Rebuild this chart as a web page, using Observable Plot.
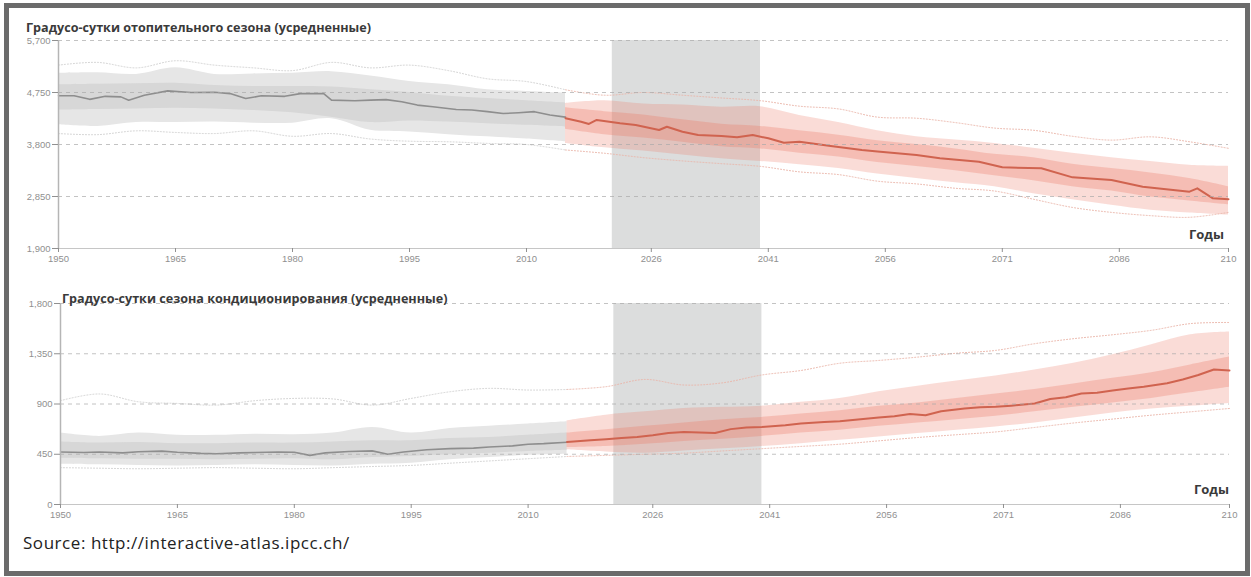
<!DOCTYPE html>
<html>
<head>
<meta charset="utf-8">
<script src="https://cdn.jsdelivr.net/npm/d3@7"></script>
<script src="https://cdn.jsdelivr.net/npm/@observablehq/plot@0.6"></script>
<style>
  html, body { margin: 0; padding: 0; background: #fff; }
  body { width: 1251px; height: 577px; overflow: hidden; position: relative; }
  #frame { position: absolute; left: 4px; top: 3px; width: 1246px; height: 573px; box-sizing: border-box;
           border: 5px solid #6b6b6b; z-index: 5; pointer-events: none; }
  .panel { position: absolute; left: 0; }
  .title { position: absolute; font-family: "Open Sans", sans-serif; font-weight: 700; font-size: 12.6px;
           line-height: 12.6px; color: #3a3a3a; white-space: nowrap; z-index: 3; }
  .years { position: absolute; font-family: "Open Sans", sans-serif; font-weight: 700; font-size: 13px;
           line-height: 13px; color: #3a3a3a; white-space: nowrap; z-index: 3; }
  #source { position: absolute; left: 23px; top: 534px; font-family: "Open Sans", sans-serif; font-size: 17px;
            letter-spacing: 0.55px; line-height: 17px; color: #222; white-space: nowrap; }
</style>
</head>
<body>
<div id="frame"></div>
<div id="p1" class="panel" style="top:0px"></div>
<div id="p2" class="panel" style="top:270px"></div>
<div class="title" id="t1" style="left:26px; top:22px"></div>
<div class="title" id="t2" style="left:62px; top:293px"></div>
<div class="years" id="g1" style="left:1189px; top:227.5px"></div>
<div class="years" id="g2" style="left:1194px; top:483px"></div>
<div id="source"></div>
<script>
// ---------- texts ----------
const title1 = "Градусо-сутки отопительного сезона (усредненные)";
const title2 = "Градусо-сутки сезона кондиционирования (усредненные)";
const xLabel = "Годы";
const sourceText = "Source: http://interactive-atlas.ipcc.ch/";

// ---------- shared x ----------
const tickYears  = [1950, 1965, 1980, 1995, 2010, 2026, 2041, 2056, 2071, 2086, 2100];
const tickLabels = ["1950", "1965", "1980", "1995", "2010", "2026", "2041", "2056", "2071", "2086", "210"];
const periodStart = 2021;
const periodEnd = 2040;

const histBandYears = [1950, 1955, 1960, 1965, 1970, 1975, 1980, 1985, 1990, 1995, 2000, 2005, 2010, 2015];
const futBandYears  = [2015, 2020, 2025, 2030, 2035, 2040, 2045, 2050, 2055, 2060, 2065, 2070, 2075, 2080, 2085, 2090, 2095, 2100];
const modelYears    = [1950, 1955, 1960, 1965, 1970, 1975, 1980, 1985, 1990, 1995, 2000, 2005, 2010, 2015, 2020, 2025,
                       2030, 2035, 2040, 2045, 2050, 2055, 2060, 2065, 2070, 2075, 2080, 2085, 2090, 2095, 2100];

// ---------- heating degree days ----------
const hddYTicks = [1900, 2850, 3800, 4750, 5700];
const hddHistOuterHi = [5100, 5110, 5080, 5200, 5080, 5090, 5100, 5130, 5050, 4950, 4890, 4800, 4770, 4740];
const hddHistOuterLo = [4160, 4130, 4200, 4200, 4210, 4190, 4190, 4270, 4060, 4030, 3980, 3940, 3900, 3850];
const hddHistInnerHi = [4890, 4900, 4910, 4920, 4880, 4860, 4860, 4850, 4800, 4750, 4680, 4640, 4600, 4560];
const hddHistInnerLo = [4430, 4440, 4450, 4460, 4450, 4420, 4380, 4300, 4200, 4230, 4210, 4180, 4150, 4120];
const hddFutOuterHi = [4550, 4600, 4540, 4520, 4480, 4490, 4330, 4200, 4050, 3940, 3880, 3820, 3730, 3640, 3560, 3490, 3420, 3400];
const hddFutOuterLo = [3820, 3740, 3680, 3610, 3540, 3490, 3430, 3360, 3260, 3180, 3100, 3030, 2900, 2790, 2690, 2600, 2550, 2510];
const hddFutInnerHi = [4470, 4400, 4340, 4250, 4170, 4130, 4050, 3970, 3870, 3800, 3720, 3620, 3560, 3440, 3360, 3280, 3180, 3030];
const hddFutInnerLo = [4080, 3980, 3920, 3840, 3760, 3720, 3640, 3570, 3470, 3400, 3320, 3230, 3140, 3030, 2950, 2840, 2770, 2700];
const hddMedHistYears = [1950, 1952, 1954, 1956, 1958, 1959, 1961, 1964, 1967, 1970, 1972, 1974, 1976, 1979, 1981, 1984,
                         1985, 1988, 1990, 1992, 1994, 1996, 1998, 2001, 2003, 2005, 2007, 2009, 2011, 2013, 2015];
const hddMedHist = [4690, 4690, 4625, 4680, 4670, 4610, 4700, 4780, 4750, 4755, 4730, 4640, 4690, 4680, 4730, 4730,
                    4610, 4600, 4610, 4620, 4580, 4520, 4490, 4440, 4430, 4400, 4365, 4380, 4400, 4340, 4300];
const hddMedFutYears = [2015, 2017, 2018, 2019, 2022, 2024, 2027, 2028, 2030, 2032, 2035, 2037, 2039, 2041, 2043, 2045,
                        2049, 2053, 2055, 2060, 2063, 2068, 2071, 2076, 2080, 2085, 2089, 2095, 2096, 2098, 2100];
const hddMedFut = [4280, 4217, 4175, 4248, 4187, 4156, 4065, 4125, 4034, 3973, 3955, 3931, 3973, 3913, 3833, 3852,
                   3773, 3700, 3670, 3608, 3548, 3486, 3383, 3365, 3200, 3151, 3029, 2938, 2999, 2817, 2800];
const hddModelMax = [5250, 5300, 5200, 5330, 5250, 5200, 5150, 5300, 5200, 5250, 5150, 5000, 4950, 4800, 4700, 4750,
                     4700, 4650, 4600, 4500, 4450, 4300, 4280, 4200, 4100, 4060, 3950, 3880, 3940, 3850, 3730];
const hddModelMin = [4000, 3980, 4050, 4020, 4000, 4050, 3950, 4000, 3900, 3860, 3850, 3820, 3800, 3700, 3640, 3560,
                     3500, 3450, 3400, 3300, 3250, 3130, 3080, 3000, 2950, 2800, 2650, 2560, 2500, 2470, 2560];

// ---------- cooling degree days ----------
const cddYTicks = [0, 450, 900, 1350, 1800];
const cddHistOuterHi = [640, 610, 640, 620, 620, 630, 625, 640, 690, 640, 680, 700, 720, 740];
const cddHistOuterLo = [360, 355, 350, 345, 350, 355, 350, 345, 360, 370, 400, 420, 440, 450];
const cddHistInnerHi = [560, 550, 555, 545, 545, 550, 550, 560, 570, 570, 590, 600, 620, 640];
const cddHistInnerLo = [415, 410, 405, 405, 400, 405, 410, 400, 420, 430, 445, 460, 475, 485];
const cddFutOuterHi = [750, 800, 830, 860, 870, 880, 915, 950, 1010, 1060, 1105, 1150, 1205, 1265, 1340, 1430, 1520, 1545];
const cddFutOuterLo = [490, 470, 460, 480, 500, 520, 545, 575, 605, 635, 665, 695, 730, 775, 820, 855, 880, 905];
const cddFutInnerHi = [640, 670, 700, 730, 760, 780, 810, 840, 880, 910, 950, 990, 1030, 1080, 1130, 1180, 1250, 1320];
const cddFutInnerLo = [510, 520, 540, 565, 585, 610, 640, 665, 700, 730, 760, 790, 830, 870, 910, 950, 1000, 1050];
const cddMedHistYears = [1950, 1953, 1955, 1958, 1960, 1963, 1965, 1968, 1970, 1973, 1975, 1978, 1980, 1982,
                         1984, 1987, 1990, 1992, 1994, 1997, 2000, 2003, 2005, 2008, 2010, 2012, 2015];
const cddMedHist = [470, 465, 470, 462, 472, 478, 468, 458, 455, 462, 465, 470, 468, 440,
                    462, 475, 480, 450, 470, 490, 500, 505, 515, 525, 540, 545, 558];
const cddMedFutYears = [2015, 2018, 2020, 2022, 2024, 2026, 2028, 2030, 2032, 2034, 2036, 2038, 2040, 2043, 2045, 2048,
                        2050, 2053, 2055, 2057, 2059, 2061, 2063, 2066, 2068, 2070, 2072, 2075, 2077, 2079, 2081, 2083,
                        2085, 2087, 2089, 2092, 2094, 2096, 2098, 2100];
const cddMedFut = [560, 575, 585, 595, 605, 620, 640, 650, 645, 640, 675, 690, 695, 710, 725, 738,
                   745, 765, 780, 790, 810, 800, 835, 860, 870, 875, 885, 904, 945, 960, 994, 1000,
                   1020, 1039, 1055, 1085, 1120, 1160, 1209, 1200];
const cddModelMax = [930, 990, 920, 905, 890, 930, 950, 945, 890, 950, 1010, 1040, 1025, 1030, 1055, 1120,
                     1070, 1090, 1160, 1200, 1265, 1290, 1320, 1355, 1380, 1440, 1485, 1520, 1560, 1620, 1630];
const cddModelMin = [330, 325, 320, 325, 330, 325, 320, 330, 340, 350, 370, 390, 410, 430, 440, 450,
                     460, 480, 500, 520, 540, 570, 600, 625, 650, 690, 730, 765, 800, 830, 860];

// ---------- styles ----------
const GRAY_OUT = "#e6e6e6", GRAY_IN = "#d3d3d3", GRAY_MED = "#8e8e8e";
const RED = "#eb7864", RED_MED = "#d0634f";

const toRows = (years, lo, hi) => years.map((year, i) => ({year, lo: lo[i], hi: hi[i]}));
const toLine = (years, vals) => years.map((year, i) => ({year, v: vals[i]}));

function band(years, lo, hi, fill, fillOpacity) {
  return Plot.areaY(toRows(years, lo, hi), {x: "year", y1: "lo", y2: "hi", fill, fillOpacity, curve: "catmull-rom"});
}
function model(vals) {
  const rows = toLine(modelYears, vals);
  return [
    Plot.lineY(rows.filter(d => d.year <= 2015), {x: "year", y: "v", stroke: "#d2d2d2", strokeWidth: 1, strokeDasharray: "1,2", curve: "catmull-rom"}),
    Plot.lineY(rows.filter(d => d.year >= 2015), {x: "year", y: "v", stroke: "#ebb6aa", strokeWidth: 1, strokeDasharray: "1,2", curve: "catmull-rom"})
  ];
}

function panel(cfg) {
  const yMin = cfg.yTicks[0], yMax = cfg.yTicks[cfg.yTicks.length - 1];
  return Plot.plot({
    width: cfg.width, height: cfg.height,
    marginLeft: cfg.marginLeft, marginRight: cfg.width - cfg.xEnd, marginTop: cfg.marginTop, marginBottom: cfg.marginBottom,
    x: {domain: [1950, 2100]},
    y: {domain: [yMin, yMax]},
    style: {background: "transparent", fontFamily: "'Liberation Sans', Arial, sans-serif", fontSize: "9.5px", color: "#909090"},
    marks: [
      Plot.rect([{start: periodStart, end: periodEnd}], {x1: "start", x2: "end", y1: () => yMin, y2: () => yMax, fill: "#dcdddd"}),
      band(histBandYears, cfg.histOuterLo, cfg.histOuterHi, GRAY_OUT, 1),
      band(histBandYears, cfg.histInnerLo, cfg.histInnerHi, GRAY_IN, 0.85),
      band(futBandYears, cfg.futOuterLo, cfg.futOuterHi, RED, 0.26),
      band(futBandYears, cfg.futInnerLo, cfg.futInnerHi, RED, 0.3),
      ...model(cfg.modelMax),
      ...model(cfg.modelMin),
      Plot.lineY(toLine(cfg.medHistYears, cfg.medHist), {x: "year", y: "v", stroke: GRAY_MED, strokeWidth: 1.6}),
      Plot.lineY(toLine(cfg.medFutYears, cfg.medFut), {x: "year", y: "v", stroke: RED_MED, strokeWidth: 2}),
      Plot.ruleY(cfg.yTicks.slice(1), {stroke: "#a9a9a9", strokeOpacity: 0.7, strokeDasharray: "4,4"}),
      Plot.ruleY([yMin], {stroke: "#c6c6c6", strokeWidth: 1}),
      Plot.ruleX([1950], {stroke: "#b5b5b5", strokeWidth: 1.5}),
      Plot.axisY({ticks: cfg.yTicks, tickFormat: d3.format(","), tickSize: 6, tickPadding: 2, color: "#909090"}),
      Plot.axisX({ticks: tickYears, tickFormat: d => tickLabels[tickYears.indexOf(d)], tickSize: 4, tickPadding: 3, color: "#909090"})
    ]
  });
}

document.getElementById("p1").append(panel({
  width: 1240, height: 270, marginLeft: 58, xEnd: 1228, marginTop: 40, marginBottom: 22,
  yTicks: hddYTicks,
  histOuterLo: hddHistOuterLo, histOuterHi: hddHistOuterHi, histInnerLo: hddHistInnerLo, histInnerHi: hddHistInnerHi,
  futOuterLo: hddFutOuterLo, futOuterHi: hddFutOuterHi, futInnerLo: hddFutInnerLo, futInnerHi: hddFutInnerHi,
  medHistYears: hddMedHistYears, medHist: hddMedHist, medFutYears: hddMedFutYears, medFut: hddMedFut,
  modelMax: hddModelMax, modelMin: hddModelMin
}));
document.getElementById("p2").append(panel({
  width: 1240, height: 256, marginLeft: 60, xEnd: 1229, marginTop: 33, marginBottom: 22,
  yTicks: cddYTicks,
  histOuterLo: cddHistOuterLo, histOuterHi: cddHistOuterHi, histInnerLo: cddHistInnerLo, histInnerHi: cddHistInnerHi,
  futOuterLo: cddFutOuterLo, futOuterHi: cddFutOuterHi, futInnerLo: cddFutInnerLo, futInnerHi: cddFutInnerHi,
  medHistYears: cddMedHistYears, medHist: cddMedHist, medFutYears: cddMedFutYears, medFut: cddMedFut,
  modelMax: cddModelMax, modelMin: cddModelMin
}));

document.getElementById("t1").textContent = title1;
document.getElementById("t2").textContent = title2;
document.getElementById("g1").textContent = xLabel;
document.getElementById("g2").textContent = xLabel;
document.getElementById("source").textContent = sourceText;
</script>
</body>
</html>
